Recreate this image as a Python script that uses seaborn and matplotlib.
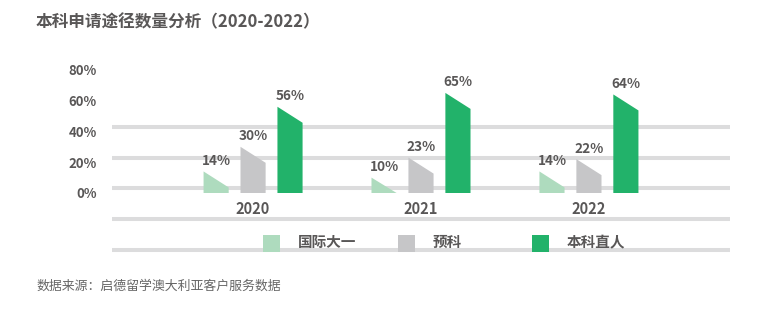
import numpy as np
import pandas as pd
import matplotlib
matplotlib.use("Agg")
import matplotlib.pyplot as plt
import seaborn as sns
from matplotlib.patches import Polygon, Rectangle
from matplotlib.lines import Line2D

# ---- data ----
years = ["2020", "2021", "2022"]
routes = ["国际大一", "预科", "本科直人"]
intl_year1 = [14, 10, 14]
foundation = [30, 23, 22]
direct = [56, 65, 64]
colors = ["#AEDBBE", "#C6C6C8", "#22B26A"]
yticks = [0, 20, 40, 60, 80]
ytick_labels = ["0%", "20%", "40%", "60%", "80%"]
title = "本科申请途径数量分析（2020-2022）"
source = "数据来源：启德留学澳大利亚客户服务数据"

sns.set_theme(style="white")
plt.rcParams["font.family"] = ["Noto Sans CJK SC", "DejaVu Sans"]

TXT = "#595757"
W, H = 774, 326
fig = plt.figure(figsize=(W / 100, H / 100), dpi=100)


def px(x0, y0, x1, y1):
    return [x0 / W, 1 - y1 / H, (x1 - x0) / W, (y1 - y0) / H]


ax = fig.add_axes(px(112, 60, 730, 193))
ax.patch.set_alpha(0)

df = pd.DataFrame({
    "year": years * 3,
    "route": np.repeat(routes, len(years)),
    "value": intl_year1 + foundation + direct,
})
sns.barplot(data=df, x="year", y="value", hue="route", hue_order=routes,
            palette=colors, width=0.66, gap=0.32, saturation=1,
            legend=False, ax=ax)

ax.set_xlim(-0.84, 2.84)
ymax = 133 / 1.54
ax.set_ylim(0, ymax)
drop = 16 / 1.54  # slant drop in data units

# replace rectangles by slanted-top shapes
bars = list(ax.patches)
for p in bars:
    x, w, h = p.get_x(), p.get_width(), p.get_height()
    fc = p.get_facecolor()
    p.set_visible(False)
    poly = Polygon([(x, 0), (x, h), (x + w, max(h - drop, 0)), (x + w, 0)],
                   closed=True, facecolor=fc, edgecolor="none", zorder=3)
    ax.add_patch(poly)
    ax.annotate(f"{int(round(h))}%", (x + w / 2, h), xytext=(0, 7.5),
                textcoords="offset points", ha="center", va="center",
                fontsize=9.8, fontweight="bold", color=TXT)

for s in ax.spines.values():
    s.set_visible(False)
ax.set_xlabel("")
ax.set_ylabel("")
ax.set_yticks(yticks)
ax.set_yticklabels(ytick_labels)
ax.tick_params(axis="y", length=0, pad=10.8, labelsize=9.5, labelcolor=TXT)
ax.tick_params(axis="x", length=0, pad=6, labelsize=10.5, labelcolor=TXT)
for t in ax.get_xticklabels() + ax.get_yticklabels():
    t.set_fontweight("bold")
ax.grid(False)

# decorative horizontal lines
for yy in [127, 158, 188, 219, 250]:
    fig.add_artist(Line2D([112 / W, 730 / W], [1 - yy / H] * 2, lw=2.9,
                          color="#DCDCDD", zorder=-1, solid_capstyle="butt"))

# legend
for i, (lab, c) in enumerate(zip(routes, colors)):
    x0 = 263 + 134.5 * i
    fig.add_artist(Rectangle((x0 / W, 1 - 252 / H), 17 / W, 17 / H,
                             facecolor=c, edgecolor="none", zorder=2))
    fig.text((x0 + 35) / W, 1 - 242 / H, lab, ha="left", va="center",
             fontsize=10.5, fontweight="bold", color=TXT)

fig.text(36 / W, 1 - 22 / H, title, ha="left", va="center",
         fontsize=12, fontweight="bold", color=TXT)
fig.text(36 / W, 1 - 286 / H, source, ha="left", va="center",
         fontsize=9.3, color="#666666")

fig.savefig("out.png", dpi=100, facecolor="white")
